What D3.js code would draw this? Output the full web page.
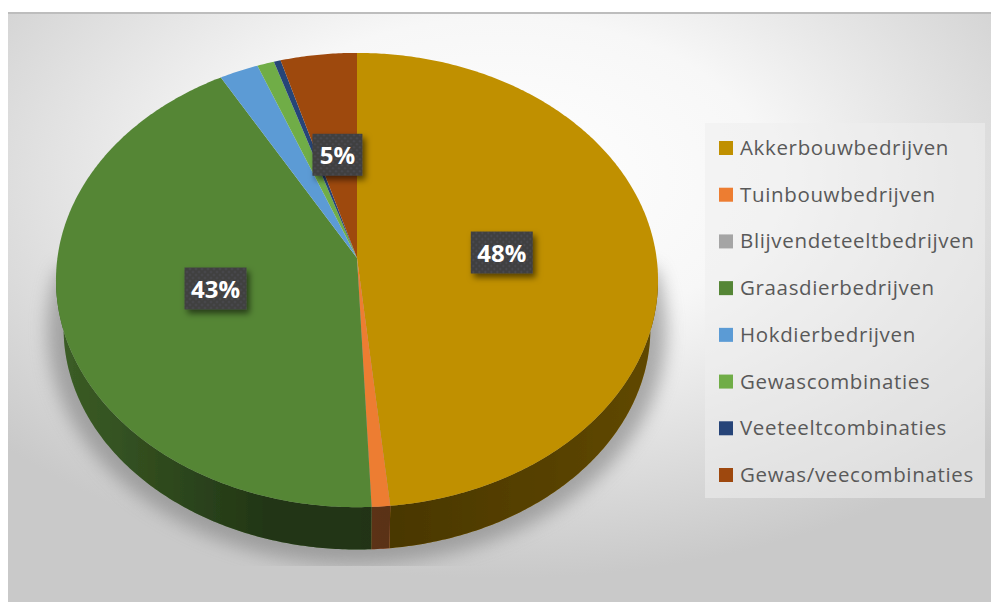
<!DOCTYPE html>
<html>
<head>
    <meta charset="utf-8">
    <script src="https://d3js.org/d3.v7.min.js"></script>
    <style>
        html, body { margin: 0; padding: 0; background: #fff; overflow: hidden; }
        svg { display: block; }
    </style>
</head>
<body>
    <svg id="chart" width="991" height="602"></svg>
    <script>
        var categories = ["Akkerbouwbedrijven", "Tuinbouwbedrijven", "Blijvendeteeltbedrijven", "Graasdierbedrijven",
            "Hokdierbedrijven", "Gewascombinaties", "Veeteeltcombinaties", "Gewas/veecombinaties"];
        var shares = [48.4, 0.9, 0, 42.5, 2.3, 1.0, 0.4, 4.5];
        var colors = ["#c09000", "#ed7d31", "#a5a5a5", "#558636", "#5b9bd5", "#70ad47", "#264478", "#9e480e"];
        var labelled = [0, 3, 7];

        var svg = d3.select("#chart");
        var defs = svg.append("defs");

        var bg = defs.append("radialGradient").attr("id", "plate")
            .attr("cx", "50%").attr("cy", "28%").attr("r", "68%");
        bg.append("stop").attr("offset", "0%").attr("stop-color", "#ffffff");
        bg.append("stop").attr("offset", "40%").attr("stop-color", "#f7f7f7");
        bg.append("stop").attr("offset", "100%").attr("stop-color", "#c9c9c9");

        var shade = defs.append("linearGradient").attr("id", "wallShade")
            .attr("gradientUnits", "userSpaceOnUse")
            .attr("x1", 56).attr("x2", 658).attr("y1", 0).attr("y2", 0);
        shade.append("stop").attr("offset", "0%").attr("stop-color", "#000").attr("stop-opacity", 0.3);
        shade.append("stop").attr("offset", "35%").attr("stop-color", "#000").attr("stop-opacity", 0.6);
        shade.append("stop").attr("offset", "55%").attr("stop-color", "#000").attr("stop-opacity", 0.62);
        shade.append("stop").attr("offset", "100%").attr("stop-color", "#000").attr("stop-opacity", 0.5);

        defs.append("filter").attr("id", "soft").attr("x", "-20%").attr("y", "-20%").attr("width", "140%").attr("height", "140%")
            .append("feGaussianBlur").attr("stdDeviation", 9);
        defs.append("filter").attr("id", "edge")
            .append("feGaussianBlur").attr("stdDeviation", 0.5);
        var boxShadow = defs.append("filter").attr("id", "boxShadow")
            .attr("x", "-30%").attr("y", "-30%").attr("width", "170%").attr("height", "170%");
        boxShadow.append("feDropShadow").attr("dx", 3).attr("dy", 4).attr("stdDeviation", 3)
            .attr("flood-color", "#000").attr("flood-opacity", 0.55);
        defs.append("clipPath").attr("id", "shadowClip").append("rect")
            .attr("x", 8).attr("y", 13).attr("width", 983).attr("height", 553);

        var dots = defs.append("pattern").attr("id", "dots").attr("patternUnits", "userSpaceOnUse")
            .attr("width", 6).attr("height", 6);
        dots.append("rect").attr("width", 6).attr("height", 6).attr("fill", "#404040");
        dots.append("circle").attr("cx", 1.5).attr("cy", 1.5).attr("r", 1).attr("fill", "#4f4f58");
        dots.append("circle").attr("cx", 4.5).attr("cy", 4.5).attr("r", 1).attr("fill", "#4f4f58");

        // plate behind the chart
        svg.append("rect").attr("x", 8).attr("y", 13).attr("width", 983).attr("height", 589).attr("fill", "url(#plate)");
        svg.append("rect").attr("x", 8).attr("y", 12).attr("width", 983).attr("height", 2).attr("fill", "#bdbdbd");

        // perspective view of the pie: the centre sits above the middle of the ellipse
        var persp = 0.097, upper = { cy: 258, a: 299.6, b: 225 }, lower = { cy: 307, a: 292, b: 219 };
        var halo = { cy: 307, a: 308, b: 232 };
        function project(rim, angle, f) {
            var d = 1 + persp * f * Math.cos(angle);
            return [357 + rim.a * f * Math.sin(angle) / d, rim.cy - rim.b * f * Math.cos(angle) / d];
        }
        function rimPoints(rim, a0, a1) {
            var n = Math.max(2, Math.ceil((a1 - a0) / 0.01));
            return d3.range(n + 1).map(function(i) { return project(rim, a0 + (a1 - a0) * i / n, 1); });
        }
        var line = d3.line();

        var slices = d3.pie().sort(null).value(function(d) { return d; })(shares);

        // soft shadow around the lower half, cut off flat underneath
        svg.append("g").attr("clip-path", "url(#shadowClip)").append("path")
            .attr("d", line(rimPoints(halo, 1.4, 2 * Math.PI - 1.4)) + "Z")
            .attr("fill", "#808080").attr("opacity", 0.62).attr("filter", "url(#soft)");

        var pie = svg.append("g").attr("filter", "url(#edge)");

        // side wall, only the part facing the viewer
        var wallFrom = 1.67, wallTo = 2 * Math.PI - 1.67;
        slices.forEach(function(s) {
            var a0 = Math.max(s.startAngle, wallFrom), a1 = Math.min(s.endAngle, wallTo);
            if (a1 <= a0) return;
            var d = line(rimPoints(upper, a0, a1).concat(rimPoints(lower, a0, a1).reverse())) + "Z";
            pie.append("path").attr("d", d).attr("fill", colors[s.index]);
            pie.append("path").attr("d", d).attr("fill", "url(#wallShade)");
        });

        // top face
        pie.selectAll(".slice").data(slices.filter(function(s) { return s.value > 0; })).enter().append("path")
            .attr("class", "slice")
            .attr("d", function(s) {
                return line([project(upper, 0, 0)].concat(rimPoints(upper, s.startAngle, s.endAngle))) + "Z";
            })
            .attr("fill", function(s) { return colors[s.index]; });

        // percentage labels
        var labels = svg.selectAll(".pct").data(labelled).enter().append("g").attr("class", "pct")
            .attr("transform", function(i) {
                var s = slices[i];
                return "translate(" + project(upper, (s.startAngle + s.endAngle) / 2, 0.485) + ")";
            });
        labels.append("rect")
            .attr("x", function(i) { return i === 7 ? -25 : -31; })
            .attr("y", -21)
            .attr("width", function(i) { return i === 7 ? 50 : 62; })
            .attr("height", 42)
            .attr("fill", "url(#dots)").attr("filter", "url(#boxShadow)");
        labels.append("text")
            .attr("text-anchor", "middle").attr("y", 9)
            .attr("font-family", "'Open Sans', sans-serif").attr("font-size", 24).attr("font-weight", 700)
            .attr("fill", "#fff")
            .text(function(i) { return Math.round(shares[i]) + "%"; });

        // legend
        svg.append("rect").attr("x", 705).attr("y", 123).attr("width", 280).attr("height", 375)
            .attr("fill", "#eeeeee").attr("opacity", 0.55);
        var legendY = d3.scalePoint().domain(categories).range([148, 475]);
        var legend = svg.selectAll(".key").data(categories).enter().append("g").attr("class", "key")
            .attr("transform", function(c) { return "translate(719," + legendY(c) + ")"; });
        legend.append("rect").attr("y", -7).attr("width", 14).attr("height", 14)
            .attr("fill", function(c, i) { return colors[i]; });
        legend.append("text").attr("x", 21).attr("y", 7)
            .attr("font-family", "'Open Sans', sans-serif").attr("font-size", 20.5).attr("letter-spacing", 0.65)
            .attr("fill", "#595959")
            .text(function(c) { return c; });
    </script>
</body>
</html>
